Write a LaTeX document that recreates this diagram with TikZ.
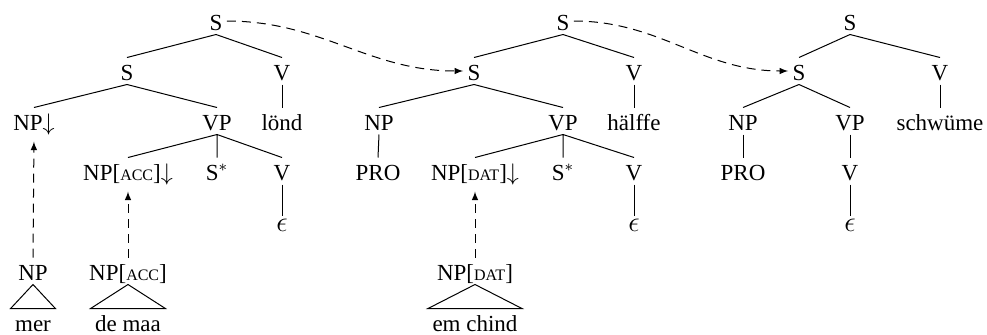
\documentclass[tikz,border=0pt]{standalone}
\usepackage{fontspec}
\setmainfont{Liberation Serif}

\newcommand{\fsc}[1]{{\fontsize{8pt}{9pt}\selectfont #1}}
\newcommand{\eps}{{\fontsize{14pt}{16pt}\selectfont$\epsilon$}}

\tikzset{
	tn/.style={anchor=base, inner sep=2pt, text height=9pt, text depth=0pt, font=\fontsize{11.5pt}{13pt}\selectfont},
	mv/.style={dash pattern=on 4.5pt off 3pt, -latex},
}

\begin{document}
\begin{tikzpicture}[x=.5pt, y=-.5pt, line width=.5pt]
	\useasboundingbox (0,0) rectangle (987,334);
	
	% first tree
	\node[tn] (s0a) at (216,30) {S};
	\node[tn] (s1a) at (127,80) {S};
	\node[tn] (v1a) at (282,80) {V};
	\node[tn] (np2a) at (34,130) {NP$\downarrow$};
	\node[tn] (vp2a) at (217,130) {VP};
	\node[tn] (loend) at (282,130) {lönd};
	\node[tn] (np3a) at (128,180) {NP[\fsc{ACC}]$\downarrow$};
	\node[tn] (st3a) at (217,180) {S$^*$};
	\node[tn] (v3a) at (282,180) {V};
	\node[tn, text height=5.5pt] (eps1) at (282,231) {\eps};
	\node[tn] (np5a) at (33,280) {NP};
	\node[tn] (np5b) at (128,280) {NP[\fsc{ACC}]};
	\node[tn] (mer) at (33,331) {mer};
	\node[tn] (demaa) at (128,331) {de maa};
	
	\draw (s0a.south) -- (s1a.north) (s0a.south) -- (v1a.north);
	\draw (s1a.south) -- (np2a.north) (s1a.south) -- (vp2a.north);
	\draw (v1a.south) -- (loend.north);
	\draw (vp2a.south) -- (np3a.north) (vp2a.south) -- (st3a.north) (vp2a.south) -- (v3a.north);
	\draw (v3a.south) -- (eps1.north);
	\draw (np5a.south) -- (mer.north west) -- (mer.north east) -- cycle;
	\draw (np5b.south) -- (demaa.north west) -- (demaa.north east) -- cycle;
	
	\draw[mv, shorten >=3.5pt] (np5a.north) -- (np2a.south);
	\draw[mv, shorten >=3.5pt] (np5b.north) -- (np3a.south);
	
	% second tree
	\node[tn] (s0b) at (563,30) {S};
	\node[tn] (s1b) at (474,80) {S};
	\node[tn] (v1b) at (634,80) {V};
	\node[tn] (np2b) at (379,130) {NP};
	\node[tn] (vp2b) at (563,130) {VP};
	\node[tn] (haelffe) at (634,130) {hälffe};
	\node[tn] (pro1) at (378,180) {PRO};
	\node[tn] (np3b) at (475,180) {NP[\fsc{DAT}]$\downarrow$};
	\node[tn] (st3b) at (563,180) {S$^*$};
	\node[tn] (v3b) at (634,180) {V};
	\node[tn, text height=5.5pt] (eps2) at (634,231) {\eps};
	\node[tn] (np5c) at (475,280) {NP[\fsc{DAT}]};
	\node[tn] (emchind) at (475,331) {em chind};
	
	\draw (s0b.south) -- (s1b.north) (s0b.south) -- (v1b.north);
	\draw (s1b.south) -- (np2b.north) (s1b.south) -- (vp2b.north);
	\draw (v1b.south) -- (haelffe.north);
	\draw (np2b.south) -- (pro1.north);
	\draw (vp2b.south) -- (np3b.north) (vp2b.south) -- (st3b.north) (vp2b.south) -- (v3b.north);
	\draw (v3b.south) -- (eps2.north);
	\draw (np5c.south) -- (emchind.north west) -- (emchind.north east) -- cycle;
	
	\draw[mv, shorten >=3.5pt] (np5c.north) -- (np3b.south);
	
	% third tree
	\node[tn] (s0c) at (850,30) {S};
	\node[tn] (s1c) at (799,80) {S};
	\node[tn] (v1c) at (940,80) {V};
	\node[tn] (np2c) at (743,130) {NP};
	\node[tn] (vp2c) at (850,130) {VP};
	\node[tn] (schwueme) at (940,130) {schwüme};
	\node[tn] (pro2) at (743,180) {PRO};
	\node[tn] (v3c) at (850,180) {V};
	\node[tn, text height=5.5pt] (eps3) at (850,231) {\eps};
	
	\draw (s0c.south) -- (s1c.north) (s0c.south) -- (v1c.north);
	\draw (s1c.south) -- (np2c.north) (s1c.south) -- (vp2c.north);
	\draw (v1c.south) -- (schwueme.north);
	\draw (np2c.south) -- (pro2.north);
	\draw (vp2c.south) -- (v3c.north);
	\draw (v3c.south) -- (eps3.north);
	
	% links between the trees
	\draw[mv] (s0a.east) to[out=0, in=180] (s1b.west);
	\draw[mv] (s0b.east) to[out=0, in=180] (s1c.west);
	
\end{tikzpicture}
\end{document}
